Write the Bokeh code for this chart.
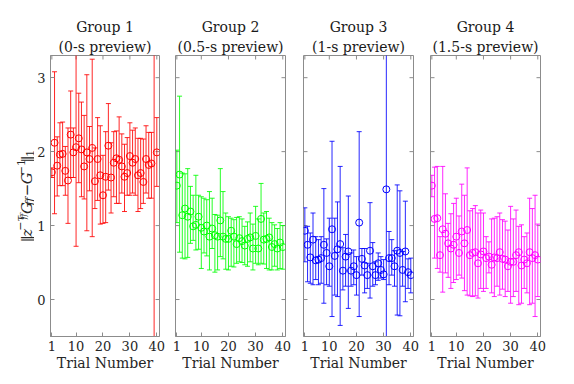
import math
from bokeh.plotting import figure
from bokeh.layouts import row
from bokeh.models import ColumnDataSource, FixedTicker, Range1d, Label, Title
from bokeh.embed import file_html
from bokeh.resources import INLINE

trials = list(range(1, 41))
x_ticks = [1, 10, 20, 30, 40]
y_ticks = [0, 1, 2, 3]
titles = ["Group 1", "Group 2", "Group 3", "Group 4"]
subtitles = ["(0-s preview)", "(0.5-s preview)", "(1-s preview)", "(1.5-s preview)"]
colors = ["#ff0000", "#00ff00", "#0000ff", "#ff00ff"]

g1_mean = [1.72, 2.12, 1.81, 1.96, 1.97, 1.74, 1.61, 2.23, 1.99, 2.06, 2.18, 2.03, 1.80, 1.99, 1.90, 2.05, 1.60, 1.90, 1.68, 1.41,
           1.66, 2.08, 1.65, 1.85, 1.91, 1.89, 1.80, 1.66, 1.71, 1.94, 1.85, 1.90, 1.68, 1.71, 1.59, 1.90, 1.82, 1.84, 3.80, 1.99]
g1_low = [1.65, 1.16, 1.40, 1.54, 1.54, 1.41, 1.03, 1.65, 1.65, 0.72, 1.58, 1.39, 1.36, 0.93, 1.47, 0.85, 1.23, 1.34, 1.02, 1.03,
          1.04, 1.48, 1.17, 1.39, 1.30, 1.30, 1.44, 1.19, 1.41, 1.41, 1.44, 1.41, 1.19, 1.23, 1.30, 1.44, 1.37, 1.37, -1.00, 1.53]
g1_high = [1.78, 3.08, 2.20, 2.39, 2.40, 2.07, 2.32, 2.82, 2.32, 3.40, 2.79, 2.67, 2.49, 3.04, 2.34, 3.25, 2.05, 2.46, 2.35, 1.95,
           2.27, 2.65, 2.12, 2.27, 2.28, 2.47, 2.24, 2.10, 2.19, 2.39, 2.29, 2.32, 2.18, 2.18, 2.17, 2.35, 2.26, 2.26, 8.60, 2.46]

g2_mean = [1.54, 1.69, 1.14, 1.23, 1.12, 1.19, 0.99, 1.01, 1.12, 0.97, 0.92, 1.00, 0.85, 0.96, 0.87, 0.85, 1.07, 0.85, 0.82, 0.82,
           0.93, 0.85, 0.75, 0.83, 0.79, 0.73, 0.82, 0.84, 0.69, 0.86, 0.69, 1.09, 0.81, 0.82, 0.84, 0.71, 0.75, 0.69, 0.77, 0.71]
g2_low = [1.04, 0.64, 0.56, 0.55, 0.57, 0.76, 0.80, 0.67, 0.68, 0.42, 0.63, 0.59, 0.40, 0.69, 0.37, 0.40, 0.58, 0.55, 0.41, 0.40,
          0.45, 0.44, 0.49, 0.51, 0.50, 0.47, 0.45, 0.51, 0.40, 0.49, 0.47, 0.49, 0.48, 0.42, 0.40, 0.40, 0.45, 0.40, 0.42, 0.41]
g2_high = [2.02, 2.75, 1.71, 1.70, 1.77, 1.53, 1.41, 1.68, 1.41, 1.39, 1.37, 1.35, 1.46, 1.37, 1.15, 1.14, 1.77, 1.46, 1.17, 1.12,
           1.10, 1.08, 1.11, 1.12, 1.09, 0.99, 1.05, 1.17, 1.02, 1.26, 1.09, 1.57, 1.17, 1.19, 1.10, 1.04, 1.01, 0.96, 1.04, 1.00]

g3_mean = [0.93, 0.74, 0.57, 0.81, 0.53, 0.54, 0.56, 0.74, 0.63, 0.45, 0.95, 0.59, 0.68, 0.75, 0.39, 0.58, 0.65, 0.39, 0.45, 0.33,
           1.04, 0.55, 0.46, 0.33, 0.66, 0.45, 0.33, 0.49, 0.40, 0.34, 1.49, 0.56, 0.56, 0.45, 0.66, 0.63, 0.40, 0.65, 0.37, 0.33]
g3_low = [0.51, 0.24, 0.22, 0.20, 0.27, 0.20, 0.22, -0.05, 0.20, 0.18, -0.23, 0.06, 0.04, -0.35, 0.13, 0.18, -0.12, 0.18, 0.20, 0.06,
          -0.23, 0.33, 0.09, 0.15, 0.02, 0.18, 0.20, 0.26, 0.29, 0.27, -0.80, 0.20, 0.33, 0.18, -0.21, -0.22, 0.18, -0.03, 0.15, 0.09]
g3_high = [1.24, 0.99, 0.90, 1.17, 0.85, 0.81, 0.85, 1.50, 0.82, 1.10, 2.14, 1.10, 1.32, 1.80, 0.70, 0.88, 1.40, 0.63, 0.67, 0.58,
           2.27, 0.69, 0.69, 0.49, 1.31, 0.77, 0.51, 0.63, 0.58, 0.54, 3.80, 0.92, 0.81, 0.66, 1.55, 1.47, 0.65, 1.33, 0.55, 0.56]

g4_mean = [1.54, 1.09, 1.10, 0.60, 0.95, 0.89, 0.76, 0.69, 0.74, 0.85, 0.63, 0.92, 0.76, 0.94, 0.60, 0.63, 0.64, 0.49, 0.61, 0.65,
           0.56, 0.58, 0.47, 0.57, 0.56, 0.64, 0.55, 0.54, 0.45, 0.51, 0.51, 0.60, 0.64, 0.46, 0.54, 0.49, 0.64, 0.56, 0.60, 0.54]
g4_low = [1.39, 0.56, 0.42, 0.37, 0.10, 0.36, 0.30, 0.15, 0.23, 0.27, 0.33, 0.29, 0.12, 0.06, 0.05, 0.04, 0.05, 0.02, 0.15, 0.11,
          0.15, 0.36, 0.09, 0.04, 0.18, 0.06, 0.14, 0.04, 0.11, -0.05, 0.04, 0.11, -0.07, -0.05, 0.15, 0.09, -0.07, -0.05, -0.23, 0.04]
g4_high = [1.68, 1.79, 1.80, 0.85, 1.80, 1.43, 1.03, 1.16, 1.30, 1.37, 1.13, 1.56, 1.41, 1.78, 1.20, 1.23, 1.27, 1.17, 1.21, 1.17,
           0.85, 0.78, 1.09, 1.10, 1.12, 1.17, 1.08, 1.06, 0.94, 1.26, 1.09, 1.21, 0.99, 1.01, 0.85, 0.90, 1.37, 1.23, 1.41, 1.02]

means = [g1_mean, g2_mean, g3_mean, g4_mean]
lows = [g1_low, g2_low, g3_low, g4_low]
highs = [g1_high, g2_high, g3_high, g4_high]

FONT = "DejaVu Serif"
AX = "#8c8c8c"
TXT = "#262626"
FRAME_W, FRAME_H = 110, 281
TOP, BOTTOM = 55, 44
H = TOP + FRAME_H + BOTTOM
X0, X1 = 0.5, 41
Y0, Y1 = -0.5, 3.3
TICK = 4  # px, inward
ppx = FRAME_W / (X1 - X0)
ppy = FRAME_H / (Y1 - Y0)

LABEL_W = 34
borders = [(15, 8), (8, 9), (9, 9), (8, 8)]

figs = []
for i in range(4):
    left, right = borders[i]
    p = figure(width=left + FRAME_W + right, height=H,
               x_range=Range1d(X0, X1), y_range=Range1d(Y0, Y1),
               output_backend="svg", toolbar_location=None, title=None,
               min_border_left=left, min_border_right=right,
               min_border_top=TOP, min_border_bottom=BOTTOM)
    p.xgrid.visible = False
    p.ygrid.visible = False
    p.outline_line_color = AX
    p.background_fill_color = "white"
    p.border_fill_color = "white"

    xa = p.xaxis[0]
    xa.ticker = FixedTicker(ticks=x_ticks)
    xa.axis_line_color = AX
    xa.major_tick_line_color = AX
    xa.minor_tick_line_color = None
    xa.major_tick_in = TICK
    xa.major_tick_out = 0
    xa.major_label_text_font = FONT
    xa.major_label_text_font_size = "13px"
    xa.major_label_text_color = TXT
    xa.major_label_standoff = 4
    xa.axis_label = "Trial Number"
    xa.axis_label_text_font = FONT
    xa.axis_label_text_font_size = "14px"
    xa.axis_label_text_font_style = "normal"
    xa.axis_label_text_color = TXT
    xa.axis_label_standoff = 1

    ya = p.yaxis[0]
    if i == 0:
        ya.ticker = FixedTicker(ticks=y_ticks)
        ya.axis_line_color = AX
        ya.major_tick_line_color = AX
        ya.minor_tick_line_color = None
        ya.major_tick_in = TICK
        ya.major_tick_out = 0
        ya.major_label_text_font = FONT
        ya.major_label_text_font_size = "13px"
        ya.major_label_text_color = TXT
        ya.major_label_standoff = 5
    else:
        ya.visible = False
        p.segment(x0=[X0] * len(y_ticks), y0=y_ticks, x1=[X0 + TICK / ppx] * len(y_ticks), y1=y_ticks,
                  line_color=AX, line_width=1)
    p.segment(x0=[X1 - TICK / ppx] * len(y_ticks), y0=y_ticks, x1=[X1] * len(y_ticks), y1=y_ticks,
              line_color=AX, line_width=1)
    p.segment(x0=x_ticks, y0=[Y1 - TICK / ppy] * len(x_ticks), x1=x_ticks, y1=[Y1] * len(x_ticks),
              line_color=AX, line_width=1)

    sub = Title(text=subtitles[i], align="center", text_font=FONT, text_font_size="14px",
                text_font_style="normal", text_color="#1a1a1a", standoff=2)
    main = Title(text=titles[i], align="center", text_font=FONT, text_font_size="14px",
                 text_font_style="normal", text_color="#1a1a1a", standoff=2)
    p.add_layout(sub, "above")
    p.add_layout(main, "above")

    src = ColumnDataSource(dict(t=trials, mean=means[i], low=lows[i], high=highs[i]))
    c = colors[i]
    p.segment(x0="t", y0="low", x1="t", y1="high", source=src, line_color=c, line_width=1, line_alpha=0.85)
    p.scatter(x="t", y="low", source=src, marker="dash", size=5, line_color=c, line_width=1, line_alpha=0.85)
    p.scatter(x="t", y="high", source=src, marker="dash", size=5, line_color=c, line_width=1, line_alpha=0.85)
    p.scatter(x="t", y="mean", source=src, marker="circle", size=7, fill_color=None, line_color=c, line_width=1)
    figs.append(p)

# narrow figure holding the composed y-axis label:  ||z^{-tau_ff} G_ff - G^{-1}||_1  (rotated)
lab = figure(width=LABEL_W, height=H, x_range=Range1d(0, LABEL_W), y_range=Range1d(0, H),
             output_backend="svg", toolbar_location=None, title=None,
             x_axis_location=None, y_axis_location=None, min_border=0)
lab.outline_line_color = None
lab.xgrid.visible = False
lab.ygrid.visible = False
lab.background_fill_color = "white"
lab.border_fill_color = "white"

pieces = [
    ("\u2016", 15, "normal", 0, 8.0),
    ("z", 15, "italic", 0, 8.0),
    ("\u2212\u03c4", 11, "italic", -6, 15.5),
    ("ff", 8, "italic", -3.5, 7.0),
    ("G", 15, "italic", 0, 12.0),
    ("ff", 11, "italic", 3, 12.0),
    ("\u2212", 15, "normal", 0, 16.5),
    ("G", 15, "italic", 0, 12.0),
    ("\u22121", 11, "normal", -6, 17.0),
    ("\u2016", 15, "normal", 0, 8.0),
    ("1", 11, "normal", 3, 7.0),
]
base_x = 26.0
py = 253.0
for text, size, style, dx, w in pieces:
    lab.add_layout(Label(x=base_x + dx, y=H - py, text=text, angle=math.pi / 2, text_font=FONT,
                         text_font_size=f"{size}px", text_font_style=style, text_color=TXT,
                         text_align="left", text_baseline="alphabetic"))
    py -= w

layout = row(lab, *figs)
open("out.html", "w").write(file_html(layout, INLINE))
